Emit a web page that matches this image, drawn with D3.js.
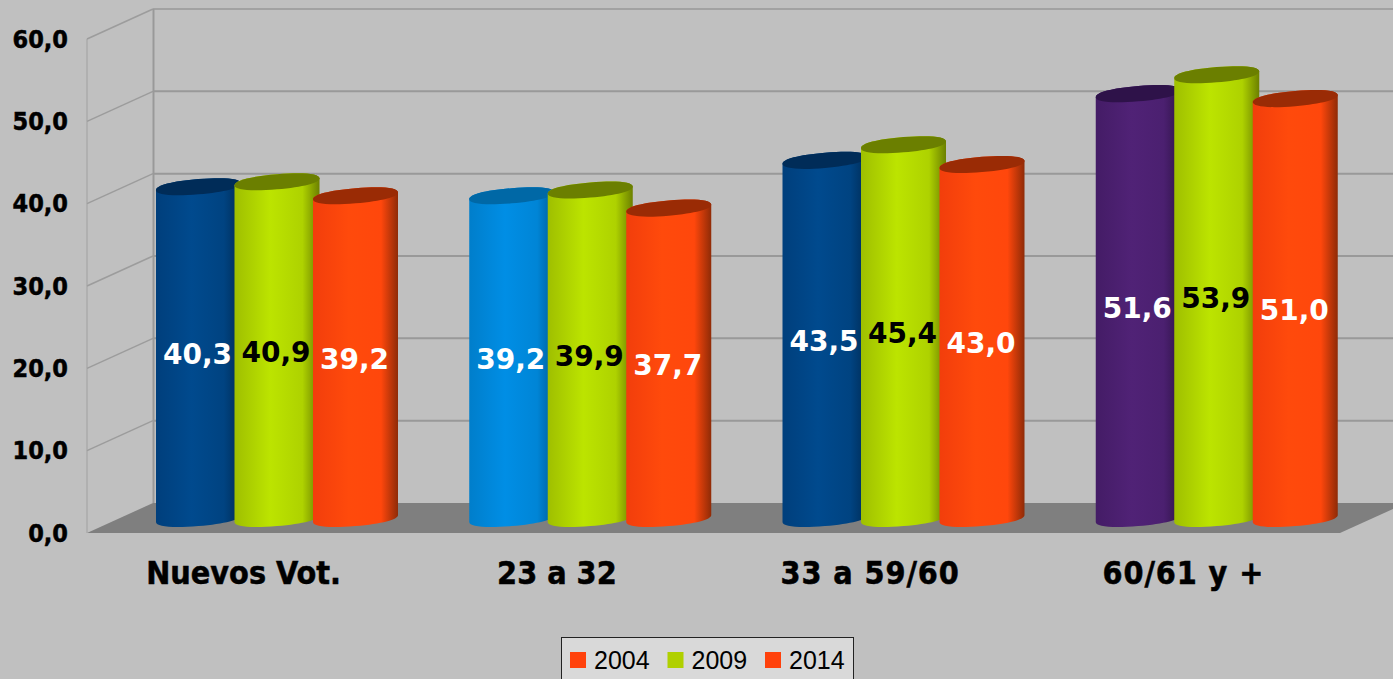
<!DOCTYPE html>
<html>
<head>
<meta charset="utf-8">
<script src="https://cdn.jsdelivr.net/npm/d3@7"></script>
<style>
	html, body { margin: 0; padding: 0; background: #c0c0c0; overflow: hidden; }
	svg { display: block; }
	.cond { font-family: "DejaVu Sans Condensed", "DejaVu Sans"; font-stretch: condensed; font-weight: bold; stroke: #000; stroke-width: 0.5px; }
</style>
</head>
<body>
<svg id="chart" width="1393" height="679"></svg>
<script>
// data
var categories = ["Nuevos Vot.", "23 a 32", "33 a 59/60", "60/61 y +"];
var years = ["2004", "2009", "2014"];
var values2004 = [40.3, 39.2, 43.5, 51.6];
var values2009 = [40.9, 39.9, 45.4, 53.9];
var values2014 = [39.2, 37.7, 43.0, 51.0];
var yTicks = [0, 10, 20, 30, 40, 50, 60];

// colours: the first series changes with the category
var firstSeriesColors = ["blue", "sky", "blue", "purple"];
var palette = {
	blue:   {stops: ["#003f7c", "#004a8e", "#004381", "#002c56"], top: "#002c58"},
	sky:    {stops: ["#007ecb", "#008ee5", "#0085d6", "#005c98"], top: "#0068a6"},
	purple: {stops: ["#441c66", "#502276", "#4b2070", "#2f1348"], top: "#2e1249"},
	green:  {stops: ["#9fbf00", "#bce400", "#aed200", "#6c8000"], top: "#6b7f00"},
	orange: {stops: ["#f23e0c", "#ff4a0c", "#ff470c", "#8f2b07"], top: "#9a2b05"}
};
var legendColors = ["#ff410b", "#b0d000", "#ff410b"];
var labelColors = ["#fff", "#000", "#fff"];

var svg = d3.select("#chart");
var comma = d3.formatLocale({decimal: ",", thousands: ".", grouping: [3], currency: ["", ""]}).format(".1f");

var left = 87, right = 1340, depthX = 66, depthY = -30;
var y = d3.scaleLinear().domain([0, 60]).range([533, 39]);
var xCat = d3.scaleBand().domain(categories).range([left, right]);
var xBar = d3.scalePoint().domain(d3.range(years.length)).range([111.5, 268.5]);

var rx = 42.5, ry = 7.6, slope = 0.082, kappa = 0.62, baseLift = 14.5;

///////////////////////////
// gradients

var defs = svg.append("defs");
Object.keys(palette).forEach(function(name) {
	var g = defs.append("linearGradient").attr("id", "grad-" + name);
	var offsets = [0, 0.42, 0.8, 1];
	palette[name].stops.forEach(function(c, i) {
		g.append("stop").attr("offset", offsets[i]).attr("stop-color", c);
	});
});

///////////////////////////
// walls and floor

var wall = svg.append("g");

wall.append("path")
	.attr("d", d3.line()([[left, y(0)], [left + depthX, y(0) + depthY], [right + depthX, y(0) + depthY], [right, y(0)]]) + "Z")
	.attr("fill", "#7f7f7f");

wall.selectAll(".grid").data(yTicks.slice(1)).enter().append("line")
	.attr("x1", left + depthX).attr("x2", right + depthX)
	.attr("y1", function(d) { return y(d) + depthY; })
	.attr("y2", function(d) { return y(d) + depthY; })
	.attr("stroke", "#999").attr("stroke-width", function(d) { return d == 60 ? 1.5 : 2; });

wall.selectAll(".side").data(yTicks).enter().append("line")
	.attr("x1", left).attr("x2", left + depthX)
	.attr("y1", function(d) { return y(d); })
	.attr("y2", function(d) { return y(d) + depthY; })
	.attr("stroke", "#9c9c9c").attr("stroke-width", function(d) { return d == 0 ? 0 : 1.5; });

wall.append("line").attr("x1", left).attr("x2", left).attr("y1", y(60)).attr("y2", y(0))
	.attr("stroke", "#a0a0a0").attr("stroke-width", 1);
wall.append("line").attr("x1", left + depthX + 0.5).attr("x2", left + depthX + 0.5)
	.attr("y1", y(60) + depthY).attr("y2", y(0) + depthY)
	.attr("stroke", "#999").attr("stroke-width", 2);

///////////////////////////
// axes

var yAxis = svg.append("g")
	.attr("transform", "translate(" + left + ",0)")
	.call(d3.axisLeft(y).tickValues(yTicks).tickFormat(comma).tickSize(0).tickPadding(19));
yAxis.select(".domain").remove();
yAxis.selectAll("text").attr("class", "cond").attr("font-size", 25).attr("fill", "#000");

var xAxis = svg.append("g")
	.attr("transform", "translate(0,561)")
	.call(d3.axisBottom(xCat).tickSize(0).tickPadding(0));
xAxis.select(".domain").remove();
xAxis.selectAll("text").attr("class", "cond").attr("font-size", 32).attr("fill", "#000").attr("dy", "0.72em")
	.style("letter-spacing", function(d) { return d.indexOf("/") > -1 ? "0.9px" : null; }); // slash is wider in the original font

///////////////////////////
// cylinders

var rows = [values2004, values2009, values2014];
var bars = [];
categories.forEach(function(cat, c) {
	rows.forEach(function(row, s) {
		bars.push({cat: cat, cIndex: c, series: s, value: row[c]});
	});
});

function barX(d) { return xCat(d.cat) + xBar(d.series); }
function barColor(d) {
	if (d.series == 0) return firstSeriesColors[d.cIndex];
	return d.series == 1 ? "green" : "orange";
}

// local (u,v) on the slanted rim to screen
function rimPoint(cx, cy, u, v) { return (cx + u) + "," + (cy + v - u * slope); }

// half of the rim, from left to right (side = 1 under, side = -1 over)
function rimCurve(cx, cy, side, reverse) {
	var k = kappa, p = function(u, v) { return rimPoint(cx, cy, u, v * side); };
	if (!reverse) {
		return "C" + p(-rx, ry * k) + " " + p(-rx * k, ry) + " " + p(0, ry) +
			"C" + p(rx * k, ry) + " " + p(rx, ry * k) + " " + p(rx, 0);
	}
	return "C" + p(rx, ry * k) + " " + p(rx * k, ry) + " " + p(0, ry) +
		"C" + p(-rx * k, ry) + " " + p(-rx, ry * k) + " " + p(-rx, 0);
}

function bodyPath(d) {
	var cx = barX(d), top = y(d.value) - baseLift, bottom = y(0) - baseLift;
	return "M" + rimPoint(cx, top, -rx, 0) +
		"L" + rimPoint(cx, bottom, -rx, 0) +
		rimCurve(cx, bottom, 1, false) +
		"L" + rimPoint(cx, top, rx, 0) +
		rimCurve(cx, top, -1, true) + "Z";
}

function topPath(d) {
	var cx = barX(d), top = y(d.value) - baseLift;
	return "M" + rimPoint(cx, top, -rx, 0) +
		rimCurve(cx, top, 1, false) +
		rimCurve(cx, top, -1, true) + "Z";
}

var bar = svg.selectAll(".bar").data(bars).enter().append("g").attr("class", "bar");

bar.append("path")
	.attr("d", bodyPath)
	.attr("fill", function(d) { return "url(#grad-" + barColor(d) + ")"; });

bar.append("path")
	.attr("d", topPath)
	.attr("fill", function(d) { return palette[barColor(d)].top; });

bar.append("text")
	.attr("x", function(d) { return barX(d) - 1; })
	.attr("y", function(d) { return (y(d.value) + y(0)) / 2 - baseLift + 1.5; })
	.attr("dy", "0.36em")
	.attr("text-anchor", "middle")
	.attr("font-family", "'DejaVu Sans'").attr("font-weight", "bold").attr("font-size", 28)
	.attr("fill", function(d) { return labelColors[d.series]; })
	.text(function(d) { return comma(d.value); });

///////////////////////////
// legend, cut by the bottom of the picture

var legend = svg.append("g");
legend.append("rect")
	.attr("x", 561.5).attr("y", 637.5).attr("width", 292).attr("height", 60)
	.attr("fill", "#d9d9d9").attr("stroke", "#222").attr("stroke-width", 1);

var legendX = d3.scalePoint().domain(years).range([570, 765]);
var item = legend.selectAll(".item").data(years).enter().append("g")
	.attr("transform", function(d) { return "translate(" + legendX(d) + ",652)"; });
item.append("rect").attr("width", 16).attr("height", 16)
	.attr("fill", function(d, i) { return legendColors[i]; });
item.append("text").attr("x", 24).attr("y", 17)
	.attr("font-family", "'Liberation Sans'").attr("font-size", 25).attr("fill", "#000")
	.text(function(d) { return d; });
</script>
</body>
</html>
